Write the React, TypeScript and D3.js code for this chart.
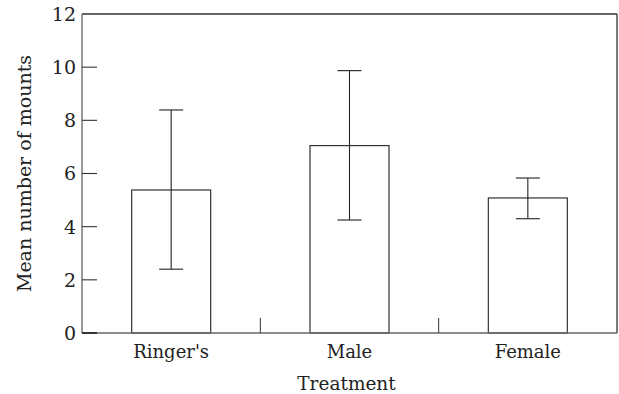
import { useEffect, useRef } from 'react';
import * as d3 from 'd3';

const categories = ["Ringer's", 'Male', 'Female'];
const means = [5.38, 7.05, 5.08];
const upper = [8.39, 9.87, 5.83];
const lower = [2.4, 4.25, 4.3];
const yTicks = [0, 2, 4, 6, 8, 10, 12];

export default function App() {
  const svgRef = useRef<SVGSVGElement>(null);

  useEffect(() => {
    if (!svgRef.current) return;
    const svg = d3.select(svgRef.current);
    svg.selectAll('*').remove();

    const width = 619;
    const height = 394;
    const margin = { top: 14, right: 2, bottom: 61, left: 82 };
    const w = width - margin.left - margin.right;
    const h = height - margin.top - margin.bottom;
    const font = '"DejaVu Serif", serif';

    svg.append('rect').attr('width', width).attr('height', height).attr('fill', 'white');

    const x = d3.scaleBand().domain(categories).range([0, w]).paddingInner(0).paddingOuter(0);
    const y = d3.scaleLinear().domain([0, 12]).range([h, 0]);
    const barW = 79;

    const g = svg.append('g').attr('transform', `translate(${margin.left},${margin.top})`);

    // frame: top and right darker, left/bottom gray
    g.append('line').attr('x1', 0).attr('x2', w).attr('y1', 0).attr('y2', 0)
      .attr('stroke', '#333').attr('stroke-width', 1.3);
    g.append('line').attr('x1', w).attr('x2', w).attr('y1', 0).attr('y2', h)
      .attr('stroke', '#333').attr('stroke-width', 1.3);
    g.append('line').attr('x1', 0).attr('x2', 0).attr('y1', 0).attr('y2', h)
      .attr('stroke', '#777').attr('stroke-width', 1.5);

    // bars
    g.selectAll('.bar')
      .data(categories)
      .enter().append('rect')
      .attr('x', d => x(d)! + x.bandwidth() / 2 - barW / 2)
      .attr('width', barW)
      .attr('y', (_, i) => y(means[i]))
      .attr('height', (_, i) => h - y(means[i]))
      .attr('fill', 'white')
      .attr('stroke', '#333')
      .attr('stroke-width', 1.2);

    // error bars
    categories.forEach((c, i) => {
      const cx = x(c)! + x.bandwidth() / 2;
      g.append('line').attr('x1', cx).attr('x2', cx)
        .attr('y1', y(upper[i])).attr('y2', y(lower[i]))
        .attr('stroke', '#222').attr('stroke-width', 1.1);
      [upper[i], lower[i]].forEach(v => {
        g.append('line').attr('x1', cx - 12).attr('x2', cx + 12)
          .attr('y1', y(v)).attr('y2', y(v))
          .attr('stroke', '#333').attr('stroke-width', 1.2);
      });
    });

    // bottom line over bars
    g.append('line').attr('x1', 0).attr('x2', w).attr('y1', h).attr('y2', h)
      .attr('stroke', '#666').attr('stroke-width', 1.3);

    // category separators
    categories.slice(1).forEach(c => {
      g.append('line').attr('x1', x(c)!).attr('x2', x(c)!)
        .attr('y1', h).attr('y2', h - 15)
        .attr('stroke', '#333').attr('stroke-width', 1);
    });

    // y ticks
    yTicks.forEach(t => {
      if (t !== 12) {
        g.append('line').attr('x1', 0).attr('x2', 15)
          .attr('y1', y(t)).attr('y2', y(t))
          .attr('stroke', '#333').attr('stroke-width', t === 0 ? 2 : 1.1);
      }
      g.append('text')
        .attr('x', -6).attr('y', y(t)).attr('dy', '0.36em')
        .attr('text-anchor', 'end')
        .style('font-family', font).style('font-size', '19px').attr('fill', '#222')
        .text(t);
    });

    // x labels
    categories.forEach(c => {
      g.append('text')
        .attr('x', x(c)! + x.bandwidth() / 2).attr('y', h + 25)
        .attr('text-anchor', 'middle')
        .style('font-family', font).style('font-size', '18px').attr('fill', '#222')
        .text(c);
    });

    // axis titles
    svg.append('text')
      .attr('x', margin.left + w / 2 - 3).attr('y', 390)
      .attr('text-anchor', 'middle')
      .style('font-family', font).style('font-size', '18.5px').attr('fill', '#222')
      .text('Treatment');

    svg.append('text')
      .attr('transform', `translate(31,${margin.top + h / 2}) rotate(-90)`)
      .attr('text-anchor', 'middle')
      .style('font-family', font).style('font-size', '19px').attr('fill', '#222')
      .text('Mean number of mounts');
  }, []);

  return (
    <svg ref={svgRef} width={619} height={394}
      style={{ position: 'absolute', left: 0, top: 0, display: 'block' }} />
  );
}
